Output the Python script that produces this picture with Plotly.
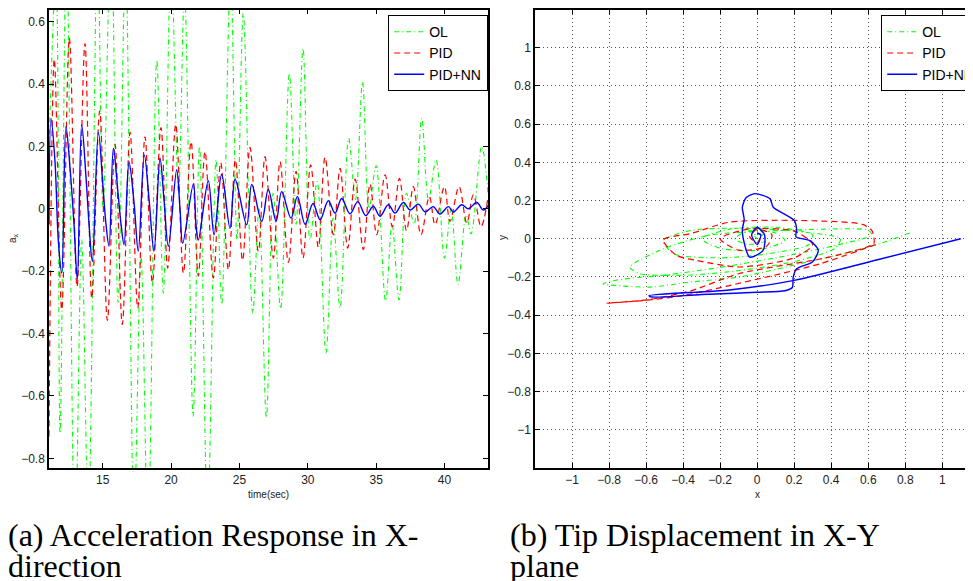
import plotly.graph_objects as go

# page body has an 8px margin; figure is sized to fit the 973x581 window
OFF = 8
W, H = 973 - OFF, 581 - OFF


def fx(p):
    return (p - OFF) / W


def fy(p):
    return 1 - (p - OFF) / H


# ---------------- (a) acceleration a_x vs time ----------------
ol_t = [11.07, 11.58, 11.88, 12.35, 12.97, 13.46, 13.95, 14.62, 15.02, 15.61, 16.12, 16.67, 17.29, 17.80,
        18.31, 18.95, 19.43, 20.00, 20.54, 20.98, 21.61, 22.08, 22.67, 23.29, 23.70, 24.35, 24.82, 25.28,
        25.97, 26.43, 26.97, 27.46, 28.01, 28.65, 29.14, 29.65, 30.16, 30.68, 31.33, 31.85, 32.36, 32.99,
        33.49, 34.00, 34.48, 34.99, 35.69, 36.16, 36.67, 37.22, 37.77, 38.33, 38.83, 39.38, 40.00, 40.48,
        40.99, 41.58, 41.94, 42.72, 43.18]
ol_ax = [0.2, 0.75, -0.72, 0.85, -1.1, -0.1, -1.0, 0.85, 0.0, 0.9, -0.3, 0.8, -1.0, -0.15,
         -1.05, 0.477, -0.27, 0.8, 0.05, 0.7, -0.665, 0.2, -1.0, 0.157, -0.307, 0.75, -0.1, 0.627,
         -0.334, 0.0, -0.67, 0.05, -0.32, 0.434, -0.05, 0.514, -0.1, 0.087, -0.462, -0.03, -0.318, 0.226,
         0.03, 0.407, 0.0, 0.138, -0.295, -0.05, -0.292, 0.05, -0.05, 0.29, 0.03, 0.157, -0.158, 0.0,
         -0.243, -0.02, -0.08, 0.2, 0.05]

pid_t = [11.07, 11.46, 12.00, 12.56, 13.12, 13.70, 14.20, 14.78, 15.34, 15.90, 16.43, 17.00, 17.56, 18.09,
         18.63, 19.26, 19.75, 20.34, 20.90, 21.46, 21.99, 22.48, 23.09, 23.63, 24.19, 24.70, 25.23, 25.77,
         26.38, 26.87, 27.48, 27.97, 28.58, 29.14, 29.65, 30.21, 30.77, 31.26, 31.87, 32.36, 32.92, 33.46,
         34.06, 34.55, 35.04, 35.65, 36.18, 36.70, 37.22, 37.72, 38.28, 38.89, 39.31, 39.99, 40.40, 41.06,
         41.63, 42.11, 42.67, 43.16]
pid_ax = [-0.73, 0.48, -0.323, 0.548, -0.25, 0.53, -0.286, 0.314, -0.358, 0.207, -0.371, 0.245, -0.318, 0.231,
          -0.236, 0.26, -0.19, 0.271, -0.206, 0.215, -0.215, 0.183, -0.222, 0.148, -0.195, 0.157, -0.165, 0.197,
          -0.137, 0.167, -0.158, 0.151, -0.172, 0.12, -0.158, 0.141, -0.123, 0.165, -0.083, 0.13, -0.126, 0.095,
          -0.131, 0.08, -0.083, 0.109, -0.057, 0.098, -0.07, 0.071, -0.083, 0.039, -0.051, 0.071, -0.04, 0.071,
          -0.045, 0.045, -0.057, 0.03]

nn_t = [11.07, 11.22, 11.51, 11.75, 12.00, 12.31, 12.61, 12.90, 13.14, 13.46, 13.78, 14.00, 14.24, 14.68,
        15.02, 15.24, 15.46, 15.78, 16.12, 16.34, 16.56, 16.92, 17.29, 17.60, 18.04, 18.39, 18.75, 19.19,
        19.48, 19.80, 20.41, 20.65, 20.85, 21.63, 21.82, 21.99, 22.72, 23.14, 23.70, 24.31, 24.68, 25.53,
        25.90, 26.63, 27.11, 27.68, 28.09, 28.77, 29.24, 29.80, 30.38, 30.90, 31.50, 31.99, 32.48, 33.09,
        33.65, 34.24, 34.79, 35.28, 35.89, 36.38, 36.99, 37.48, 38.09, 38.58, 39.18, 39.67, 40.28, 40.65,
        41.26, 41.74, 42.36, 42.84, 43.18]
nn_ax = [-0.05, 0.29, 0.15, -0.1, -0.206, 0.263, 0.13, -0.05, -0.227, 0.27, 0.1, -0.05, -0.168, 0.245,
         0.07, -0.05, -0.12, 0.194, 0.05, -0.05, -0.115, 0.15, 0.02, -0.136, 0.173, 0.03, -0.136, 0.162,
         0.03, -0.12, 0.125, 0.0, -0.11, 0.08, -0.05, -0.1, 0.09, -0.083, 0.11, -0.062, 0.095, -0.051,
         0.078, -0.04, 0.062, -0.04, 0.055, -0.03, 0.04, -0.05, 0.017, -0.035, 0.026, -0.014, 0.033, -0.016,
         0.023, -0.022, 0.008, -0.024, 0.013, -0.014, 0.02, -0.004, 0.015, -0.01, 0.007, -0.017, 0.007, -0.01,
         0.013, 0.0, 0.02, -0.004, 0.01]

t_ticks = [15, 20, 25, 30, 35, 40]
ax_ticks = [-0.8, -0.6, -0.4, -0.2, 0, 0.2, 0.4, 0.6]

# ---------------- (b) tip displacement x-y ----------------
ol_x = [0.825, 0.6, 0.3, -0.094, -0.364, -0.58, -0.832, -0.75, -0.5, -0.2, 0.1, 0.4, 0.62, 0.6, 0.35, 0.05,
        -0.25, -0.5, -0.688, -0.634, -0.36, -0.094, 0.2, 0.42, 0.45, 0.2, -0.1, -0.35, -0.508, -0.45, -0.2,
        0.05, 0.28, 0.3, 0.1, -0.15, -0.3, -0.2, 0.0, 0.15, 0.1, -0.05, -0.12, -0.05, 0.05, 0.03, -0.02, 0.0]
ol_y = [0.03, -0.045, -0.115, -0.2, -0.227, -0.253, -0.236, -0.215, -0.19, -0.15, -0.1, -0.04, 0.02, 0.045,
        0.05, 0.04, 0.02, -0.05, -0.149, -0.183, -0.19, -0.166, -0.12, -0.05, 0.0, 0.04, 0.055, 0.045, -0.01,
        -0.079, -0.1, -0.08, -0.03, 0.02, 0.06, 0.05, 0.0, -0.05, -0.06, -0.01, 0.03, 0.04, 0.0, -0.03,
        -0.01, 0.02, 0.02, 0.0]

pid_x = [0.64, 0.34, -0.15, -0.4, -0.6, -0.81, -0.58, -0.35, -0.1, 0.39, 0.63, 0.63, 0.62, 0.57, 0.213,
         -0.148, -0.36, -0.508, -0.436, -0.33, -0.094, 0.2, 0.3, 0.2, -0.05, -0.2, -0.1, 0.05, 0.08, 0.0,
         -0.04, 0.0, 0.02, 0.0]
pid_y = [-0.03, -0.131, -0.245, -0.297, -0.322, -0.337, -0.318, -0.27, -0.183, -0.096, -0.025, 0.01, 0.043,
         0.075, 0.096, 0.087, 0.027, -0.005, -0.087, -0.113, -0.148, -0.1, -0.03, 0.04, 0.05, 0.0, -0.06,
         -0.04, 0.02, 0.05, 0.01, -0.02, 0.02, 0.03]

nn_x = [1.1, 0.65, 0.2, -0.15, -0.584, -0.57, -0.3, 0.0, 0.15, 0.19, 0.195, 0.213, 0.3, 0.33, 0.285, 0.21,
        0.213, 0.2, 0.087, 0.069, -0.012, -0.06, -0.08, -0.07, -0.08, -0.075, -0.04, 0.032, 0.04, 0.0,
        -0.03, 0.0, 0.02, 0.0]
nn_y = [0.0, -0.11, -0.218, -0.268, -0.298, -0.305, -0.292, -0.28, -0.272, -0.255, -0.2, -0.157, -0.12,
        -0.06, -0.01, 0.01, 0.05, 0.096, 0.165, 0.21, 0.236, 0.215, 0.165, 0.1, 0.05, 0.0, -0.096, -0.061,
        0.02, 0.06, 0.02, -0.03, 0.02, 0.03]

xy_ticks = [-1, -0.8, -0.6, -0.4, -0.2, 0, 0.2, 0.4, 0.6, 0.8, 1]

names = ["OL", "PID", "PID+NN"]
colors = ["#00ff00", "#ff0000", "#0000ff"]
dashes = ["5px,3px,1px,3px", "6px,4px", "solid"]
widths = [1.1, 1.2, 1.4]

SANS = "Liberation Sans, Arial, Helvetica, sans-serif"
SERIF = "Liberation Serif, Times New Roman, serif"

fig = go.Figure()
for (tt, vv), n, c, d, w in zip([(ol_t, ol_ax), (pid_t, pid_ax), (nn_t, nn_ax)], names, colors, dashes, widths):
    fig.add_trace(go.Scatter(x=tt, y=vv, mode="lines", name=n, xaxis="x", yaxis="y", legend="legend",
                             line=dict(color=c, dash=d, width=w, shape="spline", smoothing=1.0)))
for (xx, yy), n, c, d, w in zip([(ol_x, ol_y), (pid_x, pid_y), (nn_x, nn_y)], names, colors, dashes, widths):
    fig.add_trace(go.Scatter(x=xx, y=yy, mode="lines", name=n, xaxis="x2", yaxis="y2", legend="legend2",
                             line=dict(color=c, dash=d, width=w, shape="spline", smoothing=0.7)))

ydom = [fy(468), fy(9.5)]
tickfont = dict(family=SANS, size=12, color="#222")
common = dict(showline=True, linecolor="black", linewidth=1.5, ticks="inside", ticklen=5,
              tickcolor="black", zeroline=False, tickfont=tickfont)

legend_common = dict(bgcolor="white", bordercolor="black", borderwidth=1.2,
                     font=dict(family=SANS, size=14, color="black"),
                     yanchor="top", y=fy(15), itemwidth=30, tracegroupgap=0)

fig.update_layout(
    width=W, height=H, margin=dict(l=0, r=0, t=0, b=0, autoexpand=False),
    paper_bgcolor="white", plot_bgcolor="white",
    xaxis=dict(domain=[fx(49), fx(488)], range=[11.07, 43.18], tickvals=t_ticks, mirror="ticks",
               showgrid=False, anchor="y", **common),
    yaxis=dict(domain=ydom, range=[-0.831, 0.639], tickvals=ax_ticks, mirror="ticks",
               showgrid=False, anchor="x", **common),
    xaxis2=dict(domain=[fx(535), 1.0], range=[-1.2, 1.166], tickvals=xy_ticks, mirror="ticks",
                showgrid=True, gridcolor="#555", griddash="1px,3px", gridwidth=1, anchor="y2", **common),
    yaxis2=dict(domain=ydom, range=[-1.2, 1.2], tickvals=xy_ticks, mirror=False,
                showgrid=True, gridcolor="#555", griddash="1px,3px", gridwidth=1, anchor="x2", **common),
    legend=dict(x=fx(488), xanchor="right", **legend_common),
    legend2=dict(x=fx(881), xanchor="left", **legend_common),
    showlegend=True,
)

ann = []
lab = dict(family=SANS, size=10, color="#222")
ann.append(dict(x=fx(268), y=fy(494), text="time(sec)", font=lab))
ann.append(dict(x=fx(757), y=fy(494), text="x", font=lab))
ann.append(dict(x=fx(13), y=fy(238), text="a<sub>x</sub>", font=lab, textangle=-90))
ann.append(dict(x=fx(503), y=fy(238), text="y", font=lab, textangle=-90))
cap = dict(family=SERIF, size=32, color="black")
ann.append(dict(x=fx(6), y=fy(535), text="(a) Acceleration Response in X-", font=cap, xanchor="left"))
ann.append(dict(x=fx(6), y=fy(566), text="direction", font=cap, xanchor="left"))
ann.append(dict(x=fx(508), y=fy(535), text="(b) Tip Displacement in X-Y", font=cap, xanchor="left"))
ann.append(dict(x=fx(508), y=fy(566), text="plane", font=cap, xanchor="left"))
for a in ann:
    a.setdefault("xanchor", "center")
    a.update(xref="paper", yref="paper", yanchor="middle", showarrow=False)
fig.update_layout(annotations=ann)

fig.write_html("out.html")
